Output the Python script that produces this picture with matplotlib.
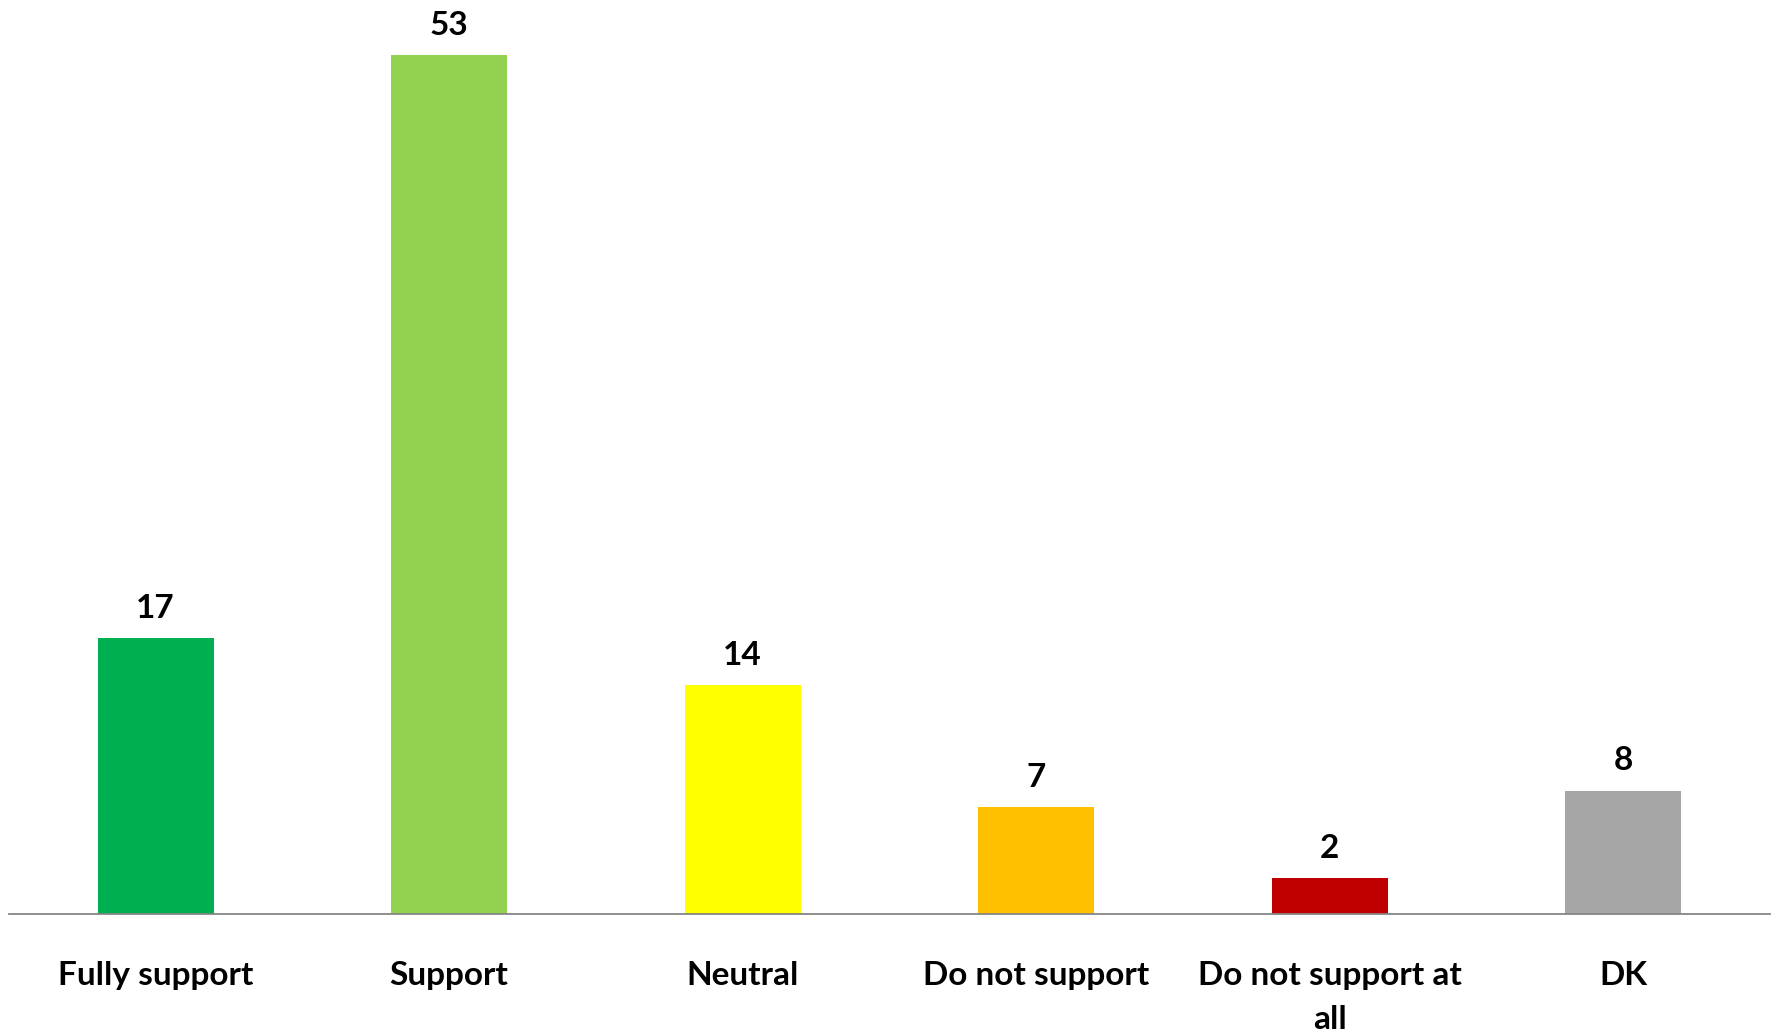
import matplotlib
matplotlib.use("Agg")
import matplotlib.pyplot as plt

categories = ["Fully support", "Support", "Neutral", "Do not support",
              "Do not support at\nall", "DK"]
values = [17, 53, 14.1, 6.6, 2.2, 7.6]
colors = ["#00B050", "#92D050", "#FFFF00", "#FFC000", "#C00000", "#A6A6A6"]

plt.rcParams['font.family'] = ['Lato', 'DejaVu Sans']

fig = plt.figure(figsize=(17.77, 10.35), dpi=100)
ax = fig.add_axes([0.005, 0.117, 0.991, 0.883])

x = range(len(categories))
bars = ax.bar(x, values, width=0.395, color=colors)
ax.bar_label(bars, fmt='%.0f', padding=11,
             fontsize=24, fontweight='bold', color='black')

ax.set_xlim(-0.5, len(categories) - 0.5)
ax.set_ylim(0, 56.4)
ax.set_xticks(list(x))
ax.set_xticklabels(categories, fontsize=24, fontweight='bold', linespacing=1.6)
ax.tick_params(axis='x', length=0, pad=34)
ax.set_yticks([])

for s in ['top', 'right', 'left']:
    ax.spines[s].set_visible(False)
ax.spines['bottom'].set_color('#868686')
ax.spines['bottom'].set_linewidth(1.3)

fig.savefig("out.png", dpi=100)
